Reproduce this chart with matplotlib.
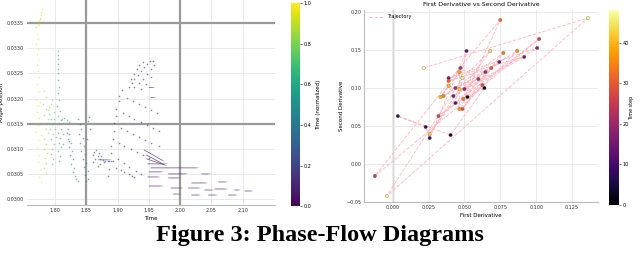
#!/usr/bin/env python3
"""Phase-flow diagrams: flow field (left) and derivative trajectory (right)."""
import numpy as np
import matplotlib
matplotlib.use('Agg')
import matplotlib.pyplot as plt
from matplotlib.colors import Normalize

# ---- left panel: flow samples, grouped by normalized time ----
flow_times = [0.97, 0.85, 0.72, 0.60, 0.47, 0.38, 0.24, 0.12]
flow_pts = [
    # yellow column
    [(1.779, .03378), (1.778, .03372), (1.777, .03366), (1.776, .03360), (1.774, .03354),
     (1.772, .03348), (1.770, .03342), (1.776, .03358), (1.775, .03346), (1.771, .03328),
     (1.773, .03318), (1.770, .03308), (1.773, .03298), (1.771, .03288), (1.773, .03278),
     (1.771, .03266), (1.773, .03254), (1.774, .03242), (1.771, .03228), (1.773, .03214),
     (1.770, .03198), (1.773, .03188), (1.771, .03174), (1.774, .03162), (1.773, .03148),
     (1.770, .03134), (1.773, .03118), (1.771, .03102), (1.774, .03088), (1.773, .03074),
     (1.776, .03058), (1.774, .03044), (1.777, .03034), (1.776, .03194), (1.777, .03128)],
    # light green
    [(1.783, .03214), (1.785, .03204), (1.781, .03190), (1.786, .03180), (1.783, .03168),
     (1.788, .03160), (1.782, .03150), (1.785, .03140), (1.789, .03132), (1.783, .03120),
     (1.786, .03110), (1.782, .03100), (1.787, .03092), (1.784, .03082), (1.786, .03072),
     (1.783, .03062), (1.785, .03052), (1.789, .03178), (1.791, .03184), (1.793, .03190),
     (1.795, .03198)],
    # green
    [(1.790, .03170), (1.793, .03160), (1.795, .03150), (1.792, .03140), (1.797, .03130),
     (1.794, .03120), (1.798, .03110), (1.795, .03100), (1.793, .03090), (1.797, .03080),
     (1.795, .03070), (1.799, .03160), (1.800, .03140), (1.798, .03174), (1.801, .03124)],
    # teal
    [(1.805, .03294), (1.805, .03286), (1.805, .03278), (1.805, .03268), (1.805, .03258),
     (1.805, .03250), (1.805, .03236), (1.806, .03222), (1.804, .03210), (1.807, .03198),
     (1.803, .03186), (1.808, .03176), (1.805, .03166), (1.810, .03158), (1.806, .03150),
     (1.809, .03140), (1.804, .03132), (1.808, .03122), (1.806, .03112), (1.810, .03104),
     (1.805, .03096), (1.808, .03086), (1.806, .03076), (1.811, .03160), (1.815, .03162),
     (1.819, .03158), (1.822, .03154), (1.812, .03130), (1.813, .03110)],
    # teal-blue
    [(1.821, .03140), (1.823, .03130), (1.820, .03120), (1.825, .03112), (1.822, .03104),
     (1.827, .03096), (1.824, .03088), (1.828, .03080), (1.826, .03070), (1.830, .03062),
     (1.829, .03054), (1.832, .03046), (1.834, .03040), (1.836, .03036), (1.819, .03132),
     (1.823, .03116)],
    # light blue
    [(1.837, .03160), (1.840, .03150), (1.842, .03140), (1.838, .03130), (1.844, .03122),
     (1.840, .03112), (1.846, .03106), (1.842, .03096), (1.848, .03090), (1.844, .03080),
     (1.850, .03072), (1.846, .03064), (1.852, .03056), (1.848, .03048), (1.853, .03040),
     (1.850, .03036), (1.853, .03156), (1.855, .03164), (1.856, .03140), (1.851, .03120)],
    # indigo
    [(1.860, .03074), (1.864, .03080), (1.868, .03086), (1.872, .03080), (1.876, .03078),
     (1.880, .03076), (1.885, .03076), (1.889, .03076), (1.892, .03076), (1.860, .03088),
     (1.863, .03094), (1.866, .03098), (1.870, .03092), (1.874, .03086), (1.868, .03066),
     (1.872, .03070), (1.878, .03074)],
    # purple fan
    [(1.884, .03046), (1.886, .03060), (1.887, .03076), (1.889, .03092), (1.890, .03106),
     (1.892, .03120), (1.894, .03136), (1.895, .03152), (1.897, .03166), (1.898, .03180),
     (1.902, .03196), (1.903, .03206), (1.907, .03216),
     (1.915, .03202), (1.924, .03196), (1.934, .03190), (1.944, .03184), (1.953, .03178), (1.963, .03172),
     (1.908, .03172), (1.918, .03166), (1.927, .03160), (1.937, .03154), (1.947, .03148),
     (1.957, .03142), (1.966, .03136),
     (1.905, .03142), (1.915, .03136), (1.924, .03130), (1.934, .03124), (1.944, .03118),
     (1.953, .03112), (1.966, .03106),
     (1.902, .03112), (1.911, .03106), (1.921, .03100), (1.931, .03094), (1.940, .03088),
     (1.950, .03082),
     (1.900, .03080), (1.910, .03072), (1.919, .03064), (1.929, .03056), (1.937, .03050),
     (1.898, .03062), (1.905, .03058), (1.911, .03054), (1.918, .03050), (1.923, .03046),
     (1.926, .03044),
     (1.918, .03222), (1.923, .03230), (1.927, .03238), (1.932, .03246), (1.937, .03254),
     (1.942, .03262), (1.947, .03268), (1.952, .03274), (1.957, .03274), (1.921, .03238),
     (1.926, .03248), (1.931, .03258), (1.935, .03266), (1.940, .03272), (1.927, .03222),
     (1.934, .03230), (1.940, .03238), (1.947, .03248), (1.953, .03258), (1.958, .03266),
     (1.937, .03218), (1.945, .03228), (1.953, .03242)],
]

# short flow dashes (start x, start y, dx, dy, normalized time)
dash_x = [1.948, 1.953, 1.950, 1.981, 2.034, 1.948, 1.981, 2.018, 2.061, 1.950, 1.985,
          2.013, 2.039, 2.055, 2.087, 2.103, 1.989, 2.018, 2.045, 2.077,
          1.942, 1.945, 1.946, 1.869, 1.950, 1.953]
dash_y = [.03070, .03062, .03054, .03050, .03050, .03044, .03042, .03032, .03034, .03026,
          .03022, .03022, .03018, .03020, .03018, .03016, .03010, .03008, .03008, .03008,
          .03098, .03088, .03080, .03078, .03222, .03202]
dash_dx = [0.032, 0.078, 0.024, 0.032, 0.016, 0.021, 0.021, 0.027, 0.016, 0.024, 0.021,
           0.021, 0.016, 0.022, 0.011, 0.015, 0.013, 0.016, 0.016, 0.016,
           0.034, 0.028, 0.034, 0.022, 0.011, 0.010]
dash_dy = [0, 0, 0, 0, 0, 0, 0, 0, 0, 0, 0, 0, 0, 0, 0, 0, 0, 0, 0, 0,
           -0.00024, -0.00018, -0.00014, 0, 0, 0]
dash_t = [0.04] * 20 + [0.08, 0.08, 0.08, 0.20, 0.12, 0.12]

# ---- right panel: derivative trajectory ----
step = [0, 2, 4, 8, 9, 10, 12, 13, 14, 15, 16, 17, 18, 19, 20, 21, 22, 23, 25, 26, 27,
        28, 29, 30, 31, 32, 33, 34, 35, 36, 37, 38, 39, 40, 41, 42, 44, 45, 46, 47, 48]
d1 = [0.0521, 0.0639, 0.0403, 0.0035, 0.0229, 0.0257, 0.0514, 0.0437, 0.0743, 0.0423,
      0.0917, 0.0389, 0.1007, 0.0500, 0.0646, 0.0437, 0.0597, 0.0472, -0.0125, 0.1021,
      0.0319, 0.0625, 0.0486, 0.0687, 0.0389, 0.0750, 0.0493, 0.0771, 0.0354, 0.0868,
      0.0465, 0.0465, 0.0333, 0.0389, 0.0465, 0.0257, 0.0680, 0.0486, -0.0042, 0.1361,
      0.0215]
d2 = [0.0881, 0.1000, 0.0381, 0.0631, 0.0487, 0.0342, 0.1487, 0.0802, 0.1342, 0.0895,
      0.1408, 0.1131, 0.1526, 0.0987, 0.1210, 0.1000, 0.1118, 0.1263, -0.0158, 0.1645,
      0.0631, 0.1039, 0.0724, 0.1263, 0.1092, 0.1895, 0.0855, 0.1461, 0.0895, 0.1487,
      0.0724, 0.1210, 0.0881, 0.1026, 0.0987, 0.0395, 0.1487, 0.1131, -0.0421, 0.1921,
      0.1263]

plt.rcParams['font.family'] = 'DejaVu Sans'
fig = plt.figure(figsize=(6.4, 2.57), dpi=100)

# ---- left ----
ax = fig.add_axes([0.042, 0.202, 0.388, 0.798])
vir = plt.get_cmap('viridis')
norm = Normalize(0, 1)
for t, pts in zip(flow_times, flow_pts):
    xs, ys = zip(*pts)
    ax.scatter(xs, ys, s=1.4, color=vir(norm(t)), alpha=0.6, linewidths=0, zorder=3)
ax.quiver(dash_x, dash_y, dash_dx, dash_dy, color=[vir(norm(t)) for t in dash_t],
          angles='xy', scale_units='xy', scale=1, width=0.003,
          headwidth=1, headlength=5, headaxislength=5, alpha=0.75, zorder=3)
for yv in [0.0335, 0.0315]:
    ax.axhline(yv, color='#9a9a9a', lw=1.6, zorder=2)
for xv in [1.85, 2.00]:
    ax.axvline(xv, color='#9a9a9a', lw=1.6, zorder=2)
ax.set_xlim(1.755, 2.152)
ax.set_ylim(0.02988, 0.03396)
ax.set_xticks([1.80, 1.85, 1.90, 1.95, 2.00, 2.05, 2.10])
ax.set_yticks(np.arange(0.0300, 0.03351, 0.0005))
ax.yaxis.set_major_formatter(matplotlib.ticker.FormatStrFormatter('%.4f'))
ax.grid(color='#e6e6e6', lw=0.6, zorder=0)
ax.tick_params(labelsize=3.5, length=0, pad=2, colors='#333333')
for s in ['top', 'right', 'left']:
    ax.spines[s].set_visible(False)
ax.spines['bottom'].set_color('#bbbbbb')
ax.set_xlabel('Time', fontsize=4, labelpad=2)
ax.set_ylabel('Angle position', fontsize=4, labelpad=2)

cax = fig.add_axes([0.455, 0.198, 0.014, 0.79])
cb = fig.colorbar(matplotlib.cm.ScalarMappable(norm=norm, cmap=vir), cax=cax)
cb.set_ticks([0, 0.2, 0.4, 0.6, 0.8, 1.0])
cb.ax.tick_params(labelsize=3.5, length=1.5, width=0.4, pad=1)
cb.outline.set_visible(False)
cb.set_label('Time (normalized)', fontsize=4, labelpad=3)

# ---- right ----
ax2 = fig.add_axes([0.569, 0.214, 0.365, 0.747])
ax2.plot(d1, d2, color='#ffb0bc', lw=0.7, ls='--', alpha=0.85, label='Trajectory', zorder=2)
sc = ax2.scatter(d1, d2, c=step, cmap='inferno', vmin=0, vmax=48, s=6,
                 edgecolors='#555555', linewidths=0.2, zorder=3)
ax2.axvline(0, color='#9a9a9a', lw=1.0, zorder=1)
ax2.set_xlim(-0.020, 0.143)
ax2.set_ylim(-0.05, 0.2026)
ax2.set_xticks([0.000, 0.025, 0.050, 0.075, 0.100, 0.125])
ax2.set_yticks([-0.05, 0.00, 0.05, 0.10, 0.15, 0.20])
ax2.grid(color='#e6e6e6', lw=0.6, zorder=0)
ax2.tick_params(labelsize=3.5, length=0, pad=2, colors='#333333')
for s in ['top', 'right']:
    ax2.spines[s].set_visible(False)
for s in ['left', 'bottom']:
    ax2.spines[s].set_color('#bbbbbb')
ax2.set_xlabel('First Derivative', fontsize=4, labelpad=2)
ax2.set_ylabel('Second Derivative', fontsize=4, labelpad=2)
ax2.set_title('First Derivative vs Second Derivative', fontsize=4.5, pad=3)
ax2.legend(loc='upper left', fontsize=3.5, frameon=False, handlelength=3)

cax2 = fig.add_axes([0.952, 0.202, 0.015, 0.759])
cb2 = fig.colorbar(sc, cax=cax2)
cb2.set_ticks([0, 10, 20, 30, 40])
cb2.ax.tick_params(labelsize=3.5, length=1.5, width=0.4, pad=1)
cb2.outline.set_visible(False)
cb2.set_label('Time step', fontsize=3.5, labelpad=0.5)

fig.text(0.5, 0.082, 'Figure 3: Phase-Flow Diagrams', ha='center', va='center',
         fontsize=17.5, fontweight='bold', family='Liberation Serif')

fig.savefig('out.png', dpi=100, facecolor='white')
plt.close()
